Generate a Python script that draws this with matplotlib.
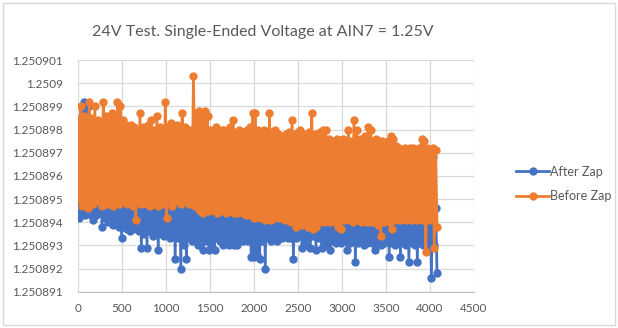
import numpy as np
import matplotlib
matplotlib.use("Agg")
import matplotlib.pyplot as plt
from matplotlib.ticker import FuncFormatter, MultipleLocator
from matplotlib.patches import Rectangle

# sample index (every 16th sample of the 4096 read)
samples = np.arange(0, 4096, 16)

# readings as offset from 1.25089 V, in units of 0.1 uV
base_v = 1.25089
after_zap = [
    80,42,85,44,92,43,91,45,90,43,78,41,76,43,77,44,
    76,38,75,42,77,40,76,41,75,39,76,40,77,38,75,33,
    76,38,75,37,76,36,74,38,75,37,76,36,75,29,76,35,
    75,29,76,36,74,34,75,35,76,28,75,35,74,34,76,35,
    75,33,76,34,74,24,75,33,76,20,75,30,74,24,76,33,
    74,32,73,33,74,30,73,33,74,28,73,32,74,28,73,29,
    74,28,73,33,74,32,73,30,74,33,73,30,74,32,73,30,
    74,30,73,33,74,32,73,33,74,32,73,25,74,25,73,26,
    74,24,73,32,74,20,73,33,74,32,73,34,74,32,73,34,
    73,33,72,34,73,33,72,33,73,24,72,33,73,34,72,29,
    73,30,72,33,73,29,72,34,73,28,72,33,73,29,72,32,
    72,30,71,28,72,32,71,31,72,32,71,31,72,32,71,28,
    72,31,71,32,72,23,71,31,72,32,71,30,72,31,71,32,
    71,31,70,28,71,31,70,30,71,31,70,32,71,25,70,31,
    68,30,67,31,68,25,67,31,68,30,67,23,68,31,67,30,
    68,23,67,31,68,30,67,31,68,30,67,16,68,30,46,18,
]
before_zap = [
    84,50,90,47,86,48,83,46,92,49,85,48,90,49,84,50,
    83,47,92,49,86,48,84,50,87,47,85,49,92,48,90,50,
    84,49,82,48,80,50,82,47,81,41,80,49,87,48,81,50,
    80,48,82,47,84,49,80,48,86,47,81,49,80,48,92,42,
    81,50,83,47,80,49,82,50,80,48,87,50,81,50,80,48,
    80,48,103,47,87,46,88,45,87,44,88,46,86,45,80,46,
    79,45,81,44,79,46,80,45,80,44,79,45,81,46,84,44,
    79,44,80,45,78,44,79,43,80,44,81,43,87,42,87,43,
    80,42,79,43,80,41,79,42,87,41,79,42,80,43,78,42,
    77,42,76,41,78,42,79,40,84,41,78,38,79,41,80,39,
    78,40,77,38,79,41,87,37,78,38,77,40,79,41,80,40,
    80,41,76,40,75,42,75,40,76,38,75,37,76,41,75,44,
    80,41,75,40,84,41,80,42,76,40,75,41,77,40,81,41,
    80,40,75,41,76,39,75,34,75,40,74,41,75,40,77,37,
    76,41,73,42,72,41,71,42,72,41,71,42,72,41,72,42,
    71,41,72,42,76,41,75,27,72,41,71,42,72,29,71,38,
]

series_names = ["After Zap", "Before Zap"]
colors = ["#4472C4", "#ED7D31"]

plt.rcParams["font.family"] = ["Lato", "DejaVu Sans"]

fig = plt.figure(figsize=(6.18, 3.28), dpi=100)
ax = fig.add_axes([0.1262, 0.1107, 0.6408, 0.7063])

for vals, name, c in zip([after_zap, before_zap], series_names, colors):
    y = base_v + np.array(vals) * 1e-7
    ax.plot(samples, y, color=c, lw=2.0, marker="o", ms=5, mec=c, mfc=c, label=name)

ax.set_xlim(0, 4500)
ax.set_ylim(1.250891, 1.250901)
ax.xaxis.set_major_locator(MultipleLocator(500))
ax.yaxis.set_major_locator(MultipleLocator(1e-6))
ax.yaxis.set_major_formatter(FuncFormatter(lambda v, p: ("%.6f" % v).rstrip("0").rstrip(".")))
ax.grid(True, color="#d9d9d9", lw=0.9)
ax.set_axisbelow(True)
for s in ["top", "right", "left"]:
    ax.spines[s].set_visible(False)
ax.spines["bottom"].set_color("#bfbfbf")
ax.tick_params(length=0, labelsize=8.5, labelcolor="#595959")
ax.tick_params(axis="y", pad=11)
ax.tick_params(axis="x", pad=8)

fig.text(263 / 618, 1 - 32 / 328, "24V Test. Single-Ended Voltage at AIN7 = 1.25V",
         ha="center", va="center", fontsize=11.5, color="#595959")

fig.legend(loc="center left", bbox_to_anchor=(505 / 618, 1 - 184 / 328), frameon=False,
           fontsize=9, labelcolor="#595959", handlelength=2.6, handletextpad=0.1,
           labelspacing=1.0)

fig.patches.append(Rectangle((3 / 618, 3 / 328), 612 / 618, 322 / 328, transform=fig.transFigure,
                             fill=False, edgecolor="#d9d9d9", lw=1))

fig.savefig("out.png", dpi=100)
